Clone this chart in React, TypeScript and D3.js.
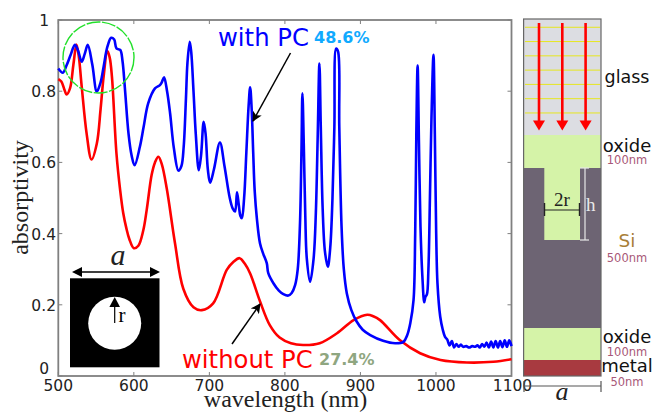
import React from "react";
import * as d3 from "d3";

const W = 653, H = 412;
const xTicks = [500, 600, 700, 800, 900, 1000, 1100];
const yTicks = [0, 0.2, 0.4, 0.6, 0.8, 1];
const yTickLabels = ["0", "0.2", "0.4", "0.6", "0.8", "1"];

const blueWavelength = [500,506,511,516,522,526,531,535,539,545,551,556,560,565,570,574,577,582,585,588,593,597,601,608,613,619,628,634.5,637,640,644,648,653,659,663,666,669,671,674,676,679,682,686,689,692.5,695,698,701,706,714,720,727,731,734,736.6,739,741,743,746,749,752,754,756,758,760,763,767,771,776,778,785,792,798,804.5,809,813.5,817,820,822,823.2,825,827,829,833.4,838,841,843.5,845.7,847.5,850,853,856.8,860,863,865.5,867.8,870.4,872,875,878,882,888,895,903,913,930,946,957,962,966,970.3,972.5,974,975.7,977.5,979.5,982,984.5,986,988,990,992,994,996.7,998.5,1000.3,1002,1005.6,1009,1012,1015,1018,1021,1024,1027,1030,1033,1036,1040,1044,1048,1052,1055,1058,1061,1064,1067,1070,1073,1076,1079,1082,1085,1088,1091,1094,1097,1100];
const blueValues = [0.864,0.852,0.873,0.9,0.93,0.915,0.883,0.905,0.93,0.875,0.799,0.825,0.869,0.925,0.95,0.945,0.92,0.916,0.885,0.813,0.68,0.62,0.592,0.644,0.7,0.766,0.808,0.817,0.825,0.839,0.8,0.738,0.64,0.577,0.59,0.644,0.78,0.88,0.939,0.91,0.8,0.68,0.578,0.62,0.714,0.68,0.58,0.543,0.58,0.656,0.59,0.5,0.47,0.462,0.516,0.48,0.45,0.443,0.5,0.63,0.76,0.811,0.75,0.63,0.52,0.44,0.373,0.345,0.317,0.289,0.26,0.24,0.23,0.226,0.233,0.255,0.3,0.43,0.64,0.794,0.65,0.45,0.33,0.265,0.33,0.46,0.68,0.878,0.7,0.47,0.35,0.307,0.36,0.5,0.7,0.92,0.911,0.7,0.42,0.3,0.232,0.185,0.153,0.13,0.115,0.099,0.092,0.096,0.115,0.148,0.213,0.4,0.68,0.872,0.65,0.42,0.28,0.207,0.222,0.229,0.3,0.5,0.72,0.902,0.68,0.4,0.26,0.167,0.13,0.11,0.102,0.086,0.098,0.08,0.09,0.082,0.088,0.082,0.084,0.08,0.084,0.082,0.086,0.08,0.09,0.082,0.094,0.08,0.097,0.08,0.098,0.08,0.098,0.081,0.1,0.082,0.1,0.084,0.098];

const redWavelength = [500,504,508,511,515.5,520,524,527,531,537.5,544,551,556,560,565,568,571,577,582,586,590,594,600,606,612.6,617,623.6,628,632.5,637,643.7,654.5,665.5,679,690,705,723,732,740,747,754,767,780,793,808,824,846,869,891,909,917,926,952,979,1006,1041,1076,1100];
const redValues = [0.834,0.827,0.805,0.791,0.808,0.875,0.931,0.9,0.813,0.681,0.608,0.653,0.75,0.841,0.913,0.895,0.841,0.625,0.52,0.457,0.416,0.385,0.359,0.366,0.41,0.466,0.565,0.6,0.616,0.595,0.525,0.373,0.245,0.193,0.185,0.204,0.298,0.321,0.331,0.315,0.288,0.21,0.143,0.108,0.092,0.087,0.092,0.12,0.157,0.172,0.168,0.157,0.101,0.064,0.045,0.038,0.04,0.047];

const glassLines = [1, 2, 3, 4, 5, 6, 7];
const rays = [0, 1, 2];

const x = d3.scaleLinear().domain([500, 1100]).range([58.3, 511.5]);
const y = d3.scaleLinear().domain([0, 1]).range([376, 20]);
const lineGen = d3.line<[number, number]>().curve(d3.curveCatmullRom.alpha(0.5));
const path = (xs: number[], ys: number[]) =>
  lineGen(xs.map((w, i) => [x(w), y(ys[i])] as [number, number])) as string;

const SANS = "'DejaVu Sans', sans-serif";
const SERIF = "'Liberation Serif', 'DejaVu Serif', serif";
const TICK = "#222";

export default function App() {
  return (
    <svg width={W} height={H} viewBox={`0 0 ${W} ${H}`}
      style={{ position: "fixed", left: 0, top: 0, background: "#fff" }}>
      <defs>
        <marker id="blk" markerUnits="userSpaceOnUse" viewBox="0 0 10 10" refX="9" refY="5"
          markerWidth="10" markerHeight="10" orient="auto">
          <path d="M0,0L10,5L0,10L2.5,5Z" fill="#000" />
        </marker>
      </defs>

      {/* axes frame */}
      <rect x={x(500)} y={y(1)} width={x(1100) - x(500)} height={y(0) - y(1)}
        fill="none" stroke="#808080" strokeWidth={1.8} />
      {xTicks.map(t => (
        <g key={t}>
          <line x1={x(t)} x2={x(t)} y1={y(0)} y2={y(0) - 4} stroke="#808080" />
          <line x1={x(t)} x2={x(t)} y1={y(1)} y2={y(1) + 4} stroke="#808080" />
          <text x={t === 1100 ? x(t) + 1 : x(t)} y={391} textAnchor="middle" fontFamily={SANS} fontSize={15.5} fill={TICK}>{t}</text>
        </g>
      ))}
      {yTicks.map((t, i) => (
        <g key={t}>
          <line x1={x(500)} x2={x(500) + 4} y1={y(t)} y2={y(t)} stroke="#808080" />
          <line x1={x(1100)} x2={x(1100) - 4} y1={y(t)} y2={y(t)} stroke="#808080" />
          <text x={t === 0 || t === 1 ? 49 : 56} y={t === 0 ? 374 : y(t) + 6} textAnchor="end"
            fontFamily={SANS} fontSize={15.5} fill={TICK}>{yTickLabels[i]}</text>
        </g>
      ))}
      <text transform="translate(28,197.5) rotate(-90)" textAnchor="middle" fontFamily={SERIF}
        fontSize={24} fill="#222">absorptivity</text>
      <text x={285.5} y={407} textAnchor="middle" fontFamily={SERIF} fontSize={24} fill="#222">wavelength (nm)</text>

      {/* curves */}
      <path d={path(redWavelength, redValues)} fill="none" stroke="#ff0000" strokeWidth={2.6} strokeLinejoin="round" />
      <path d={path(blueWavelength, blueValues)} fill="none" stroke="#0000ff" strokeWidth={2.6} strokeLinejoin="round" />

      {/* highlight circle */}
      <circle cx={98.5} cy={57.5} r={35.5} fill="none" stroke="#22e02a" strokeWidth={1.4} strokeDasharray="14 1.5" />

      {/* annotations */}
      <text x={218} y={46} fontFamily={SANS} fontSize={24.3} fill="#0000ff">with PC</text>
      <text x={314} y={42.5} fontFamily={SANS} fontSize={16} fontWeight="bold" fill="#10aaff">48.6%</text>
      <line x1={290.5} y1={53} x2={253} y2={121} stroke="#000" strokeWidth={1.5} markerEnd="url(#blk)" />
      <text x={182} y={368} fontFamily={SANS} fontSize={24.3} fill="#ff0000">without PC</text>
      <text x={319} y={365} fontFamily={SANS} fontSize={16} fontWeight="bold" fill="#8fa680">27.4%</text>
      <line x1={232} y1={344} x2={260} y2={304} stroke="#000" strokeWidth={1.5} markerEnd="url(#blk)" />

      {/* unit-cell inset */}
      <rect x={70} y={278.3} width={89.5} height={89} fill="#000" />
      <circle cx={114.7} cy={323.3} r={26.5} fill="#fff" />
      <line x1={114.7} y1={323} x2={114.7} y2={305} stroke="#000" strokeWidth={1.2} />
      <path d="M114.7,297L120,307H109.4Z" fill="#000" />
      <text x={118.5} y={322} fontFamily={SERIF} fontSize={21} fill="#000">r</text>
      <line x1={78} x2={152} y1={272} y2={272} stroke="#000" strokeWidth={1.4} />
      <path d="M72,272L82,267V277Z" fill="#000" />
      <path d="M160,272L150,267V277Z" fill="#000" />
      <text x={118} y={265} textAnchor="middle" fontFamily={SERIF} fontStyle="italic" fontSize={30} fill="#222">a</text>

      {/* layer stack */}
      <rect x={524} y={19} width={77} height={116} fill="#dcdde2" />
      <rect x={524} y={135} width={77} height={33} fill="#d5f3a8" />
      <rect x={524} y={168} width={77} height={160} fill="#6d6473" />
      <rect x={544.3} y={168} width={35.7} height={72} fill="#d5f3a8" />
      <rect x={524} y={328} width={77} height={32} fill="#d5f3a8" />
      <rect x={524} y={360} width={77} height={16} fill="#a83a40" />
      <rect x={523.6} y={19} width={77.4} height={357} fill="none" stroke="#666" strokeWidth={1.2} />
      {glassLines.map(i => (
        <line key={i} x1={525} x2={600} y1={13 + i * 14.28} y2={13 + i * 14.28} stroke="#e6e620" strokeWidth={1} />
      ))}
      {rays.map(i => {
        const cx = 539 + i * 23.3;
        return (
          <g key={i}>
            <line x1={cx} x2={cx} y1={23} y2={122} stroke="#ff0000" strokeWidth={2.6} />
            <path d={`M${cx - 6},120.5H${cx + 6}L${cx},130.5Z`} fill="#ff0000" />
          </g>
        );
      })}
      <line x1={544.5} x2={579.5} y1={210} y2={210} stroke="#222" strokeWidth={1.2} />
      <line x1={544.5} x2={544.5} y1={203} y2={216} stroke="#222" strokeWidth={1.4} />
      <line x1={579.5} x2={579.5} y1={203} y2={216} stroke="#222" strokeWidth={1.4} />
      <text x={562} y={205.5} textAnchor="middle" fontFamily={SERIF} fontSize={19} fill="#222">2r</text>
      <line x1={585} x2={585} y1={168} y2={240} stroke="#e8e8e8" strokeWidth={1.2} />
      <line x1={580} x2={589} y1={168} y2={168} stroke="#e8e8e8" strokeWidth={1.2} />
      <line x1={580} x2={589} y1={240} y2={240} stroke="#e8e8e8" strokeWidth={1.2} />
      <text x={586} y={211} fontFamily={SERIF} fontSize={19} fill="#e8e8e8">h</text>

      <text x={627} y={83} textAnchor="middle" fontFamily={SANS} fontSize={17.5} fill="#111">glass</text>
      <text x={627} y={152} textAnchor="middle" fontFamily={SANS} fontSize={18} fill="#111">oxide</text>
      <text x={627} y={164} textAnchor="middle" fontFamily={SANS} fontSize={11.5} fill="#a85878">100nm</text>
      <text x={627} y={247} textAnchor="middle" fontFamily={SANS} fontSize={18.5} fill="#a98038">Si</text>
      <text x={627} y={262} textAnchor="middle" fontFamily={SANS} fontSize={11.5} fill="#a85878">500nm</text>
      <text x={627} y={343} textAnchor="middle" fontFamily={SANS} fontSize={18} fill="#111">oxide</text>
      <text x={627} y={356} textAnchor="middle" fontFamily={SANS} fontSize={11.5} fill="#a85878">100nm</text>
      <text x={627} y={372} textAnchor="middle" fontFamily={SANS} fontSize={18} fill="#111">metal</text>
      <text x={627} y={386} textAnchor="middle" fontFamily={SANS} fontSize={11.5} fill="#a85878">50nm</text>

      <line x1={524} x2={601} y1={386} y2={386} stroke="#555" strokeWidth={1.2} />
      <line x1={524} x2={524} y1={381} y2={392} stroke="#555" strokeWidth={1.2} />
      <line x1={601} x2={601} y1={381} y2={392} stroke="#555" strokeWidth={1.2} />
      <text x={562} y={400} textAnchor="middle" fontFamily={SERIF} fontStyle="italic" fontSize={26} fill="#222">a</text>
    </svg>
  );
}
